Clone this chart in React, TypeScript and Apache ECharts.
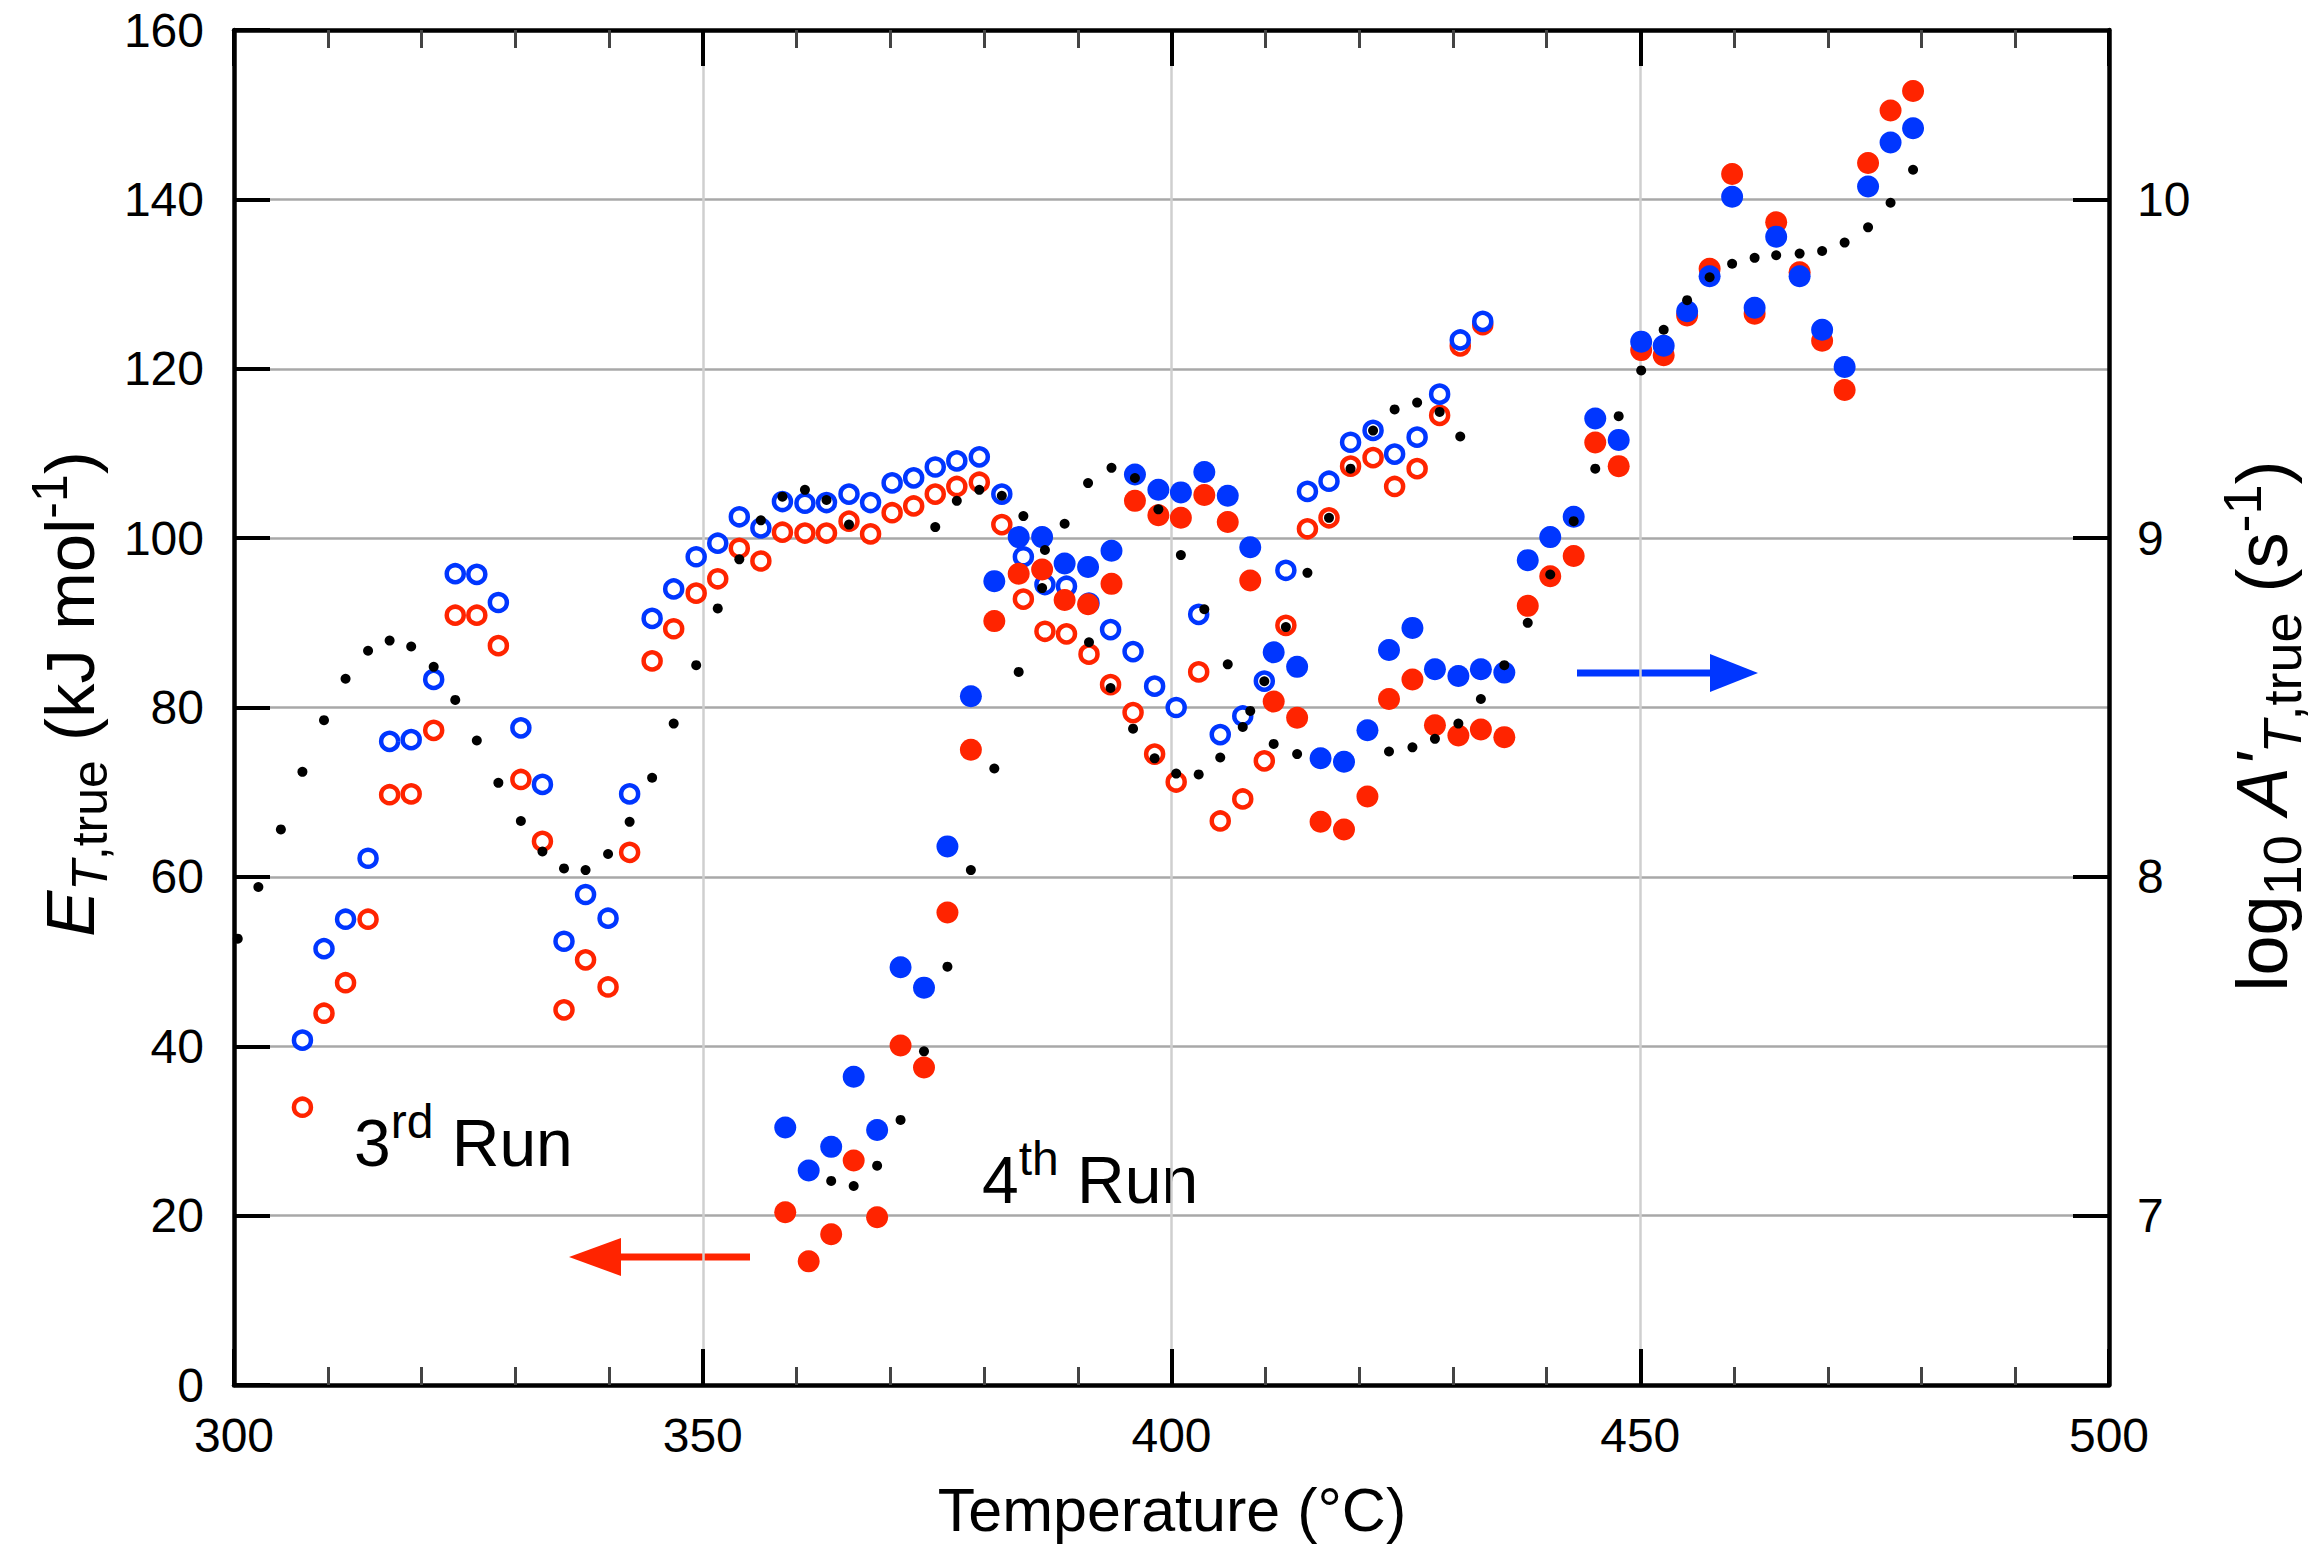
import React, { useEffect, useRef } from 'react';
import * as echarts from 'echarts';

// ---------- DATA ----------
// 3rd run (open circles): temperatures in °C
const run3T = [
  307.3, 309.6, 311.9, 314.3, 316.6, 318.9, 321.3, 323.6, 325.9, 328.2,
  330.6, 332.9, 335.2, 337.5, 339.9, 342.2, 344.6, 346.9, 349.3, 351.6,
  353.9, 356.2, 358.5, 360.9, 363.2, 365.6, 367.9, 370.2, 372.5, 374.8,
  377.1, 379.5, 381.9, 384.2, 386.5, 388.8, 391.2, 393.5, 395.9, 398.2,
  400.5, 402.9, 405.2, 407.6, 409.9, 412.2, 414.5, 416.8, 419.1, 421.5,
  423.8, 426.2, 428.6, 430.8, 433.2,
];
// 3rd run E_T,true (kJ/mol) – red open circles, left axis
const run3E = [
  32.8, 43.9, 47.5, 55.0, 69.7, 69.8, 77.3, 90.9, 90.9, 87.3,
  71.5, 64.2, 44.3, 50.2, 47.0, 62.9, 85.5, 89.3, 93.5, 95.2,
  98.8, 97.3, 100.7, 100.6, 100.6, 102.0, 100.5, 103.0, 103.8, 105.2,
  106.1, 106.6, 101.6, 92.8, 89.0, 88.7, 86.3, 82.7, 79.4, 74.5,
  71.2, 84.2, 66.6, 69.2, 73.7, 89.7, 101.1, 102.4, 108.5, 109.5,
  106.1, 108.2, 114.5, 122.7, 125.2,
];
// 3rd run log10 A'_T,true (s^-1) – blue open circles, right axis
const run3LogA = [
  7.518, 7.788, 7.875, 8.055, 8.4, 8.405, 8.583, 8.895, 8.893, 8.81,
  8.44, 8.273, 7.81, 7.948, 7.878, 8.245, 8.763, 8.85, 8.945, 8.985,
  9.063, 9.03, 9.108, 9.103, 9.105, 9.13, 9.105, 9.163, 9.178, 9.21,
  9.228, 9.24, 9.13, 8.945, 8.863, 8.858, 8.808, 8.73, 8.665, 8.563,
  8.5, 8.775, 8.42, 8.475, 8.578, 8.905, 9.138, 9.168, 9.283, 9.318,
  9.248, 9.298, 9.425, 9.585, 9.64,
];

// 4th run (filled circles)
const run4T = [
  358.8, 361.3, 363.7, 366.1, 368.6, 371.1, 373.6, 376.1, 378.6, 381.1,
  383.7, 386.2, 388.6, 391.1, 393.6, 396.1, 398.6, 401.0, 403.5, 406.0,
  408.4, 410.9, 413.4, 415.9, 418.4, 420.9, 423.2, 425.7, 428.1, 430.6,
  433.0, 435.5, 438.0, 440.4, 442.9, 445.2, 447.7, 450.1, 452.5, 455.0,
  457.4, 459.8, 462.2, 464.5, 467.0, 469.4, 471.8, 474.3, 476.7, 479.1,
];
const run4E = [
  20.4, 14.6, 17.8, 26.5, 19.8, 40.1, 37.5, 55.8, 75.0, 90.2,
  95.8, 96.3, 92.7, 92.2, 94.6, 104.4, 102.7, 102.4, 105.1, 101.9,
  95.0, 80.7, 78.8, 66.5, 65.6, 69.5, 81.0, 83.3, 77.9, 76.7,
  77.4, 76.5, 92.0, 95.5, 97.9, 111.3, 108.5, 122.2, 121.6, 126.3,
  131.8, 143.0, 126.5, 137.3, 131.4, 123.3, 117.5, 144.3, 150.5, 152.8,
];
const run4LogA = [
  7.26, 7.133, 7.203, 7.41, 7.253, 7.733, 7.673, 8.09, 8.533, 8.873,
  9.003, 9.003, 8.925, 8.915, 8.963, 9.188, 9.143, 9.135, 9.195, 9.125,
  8.973, 8.663, 8.62, 8.35, 8.34, 8.433, 8.67, 8.735, 8.613, 8.593,
  8.613, 8.603, 8.935, 9.003, 9.063, 9.353, 9.29, 9.58, 9.568, 9.67,
  9.773, 10.008, 9.68, 9.89, 9.773, 9.615, 9.505, 10.038, 10.168, 10.21,
];

// small black dots (left axis scale)
const dots3T = [
  300.4, 302.6, 305.0, 307.3, 309.6, 311.9, 314.3, 316.6, 318.9, 321.3,
  323.6, 325.9, 328.2, 330.6, 332.9, 335.2, 337.5, 339.9, 342.2, 344.6,
  346.9, 349.3, 351.6, 353.9, 356.2, 358.5, 360.9, 363.2, 365.6, 374.8,
  377.1, 379.5, 381.9, 384.2, 386.5, 391.2, 393.5, 395.9, 398.2, 400.5,
  402.9, 405.2, 407.6, 409.9, 412.2, 414.5, 416.8, 419.1, 421.5, 423.8,
  426.2, 428.6, 430.8,
];
const dots3E = [
  52.7, 58.8, 65.6, 72.4, 78.5, 83.4, 86.7, 87.9, 87.2, 84.8,
  80.9, 76.1, 71.1, 66.6, 63.0, 61.0, 60.8, 62.7, 66.5, 71.7,
  78.1, 85.0, 91.7, 97.5, 102.1, 104.9, 105.7, 104.5, 101.6, 101.3,
  104.4, 105.7, 105.0, 102.6, 98.6, 87.7, 82.3, 77.5, 74.0, 72.2,
  72.1, 74.1, 77.7, 83.1, 89.5, 95.9, 102.4, 108.2, 112.7, 115.2,
  116.0, 114.9, 112.0,
];
const dots4T = [
  363.7, 366.1, 368.6, 371.1, 373.6, 376.1, 378.6, 381.1, 383.7, 386.2,
  388.6, 391.1, 393.6, 396.1, 398.6, 401.0, 403.5, 406.0, 408.4, 410.9,
  413.4, 423.2, 425.7, 428.1, 430.6, 433.0, 435.5, 438.0, 440.4, 442.9,
  445.2, 447.7, 450.1, 452.5, 455.0, 457.4, 459.8, 462.2, 464.5, 467.0,
  469.4, 471.8, 474.3, 476.7, 479.1,
];
const dots4E = [
  24.1, 23.5, 25.9, 31.3, 39.4, 49.4, 60.8, 72.8, 84.2, 94.1,
  101.7, 106.5, 108.3, 107.1, 103.4, 98.0, 91.6, 85.1, 79.6, 75.7,
  74.5, 74.8, 75.3, 76.3, 78.1, 81.0, 85.0, 90.0, 95.7, 102.0,
  108.2, 114.4, 119.8, 124.6, 128.1, 130.8, 132.4, 133.1, 133.4, 133.6,
  133.9, 134.9, 136.7, 139.6, 143.5,
];

// axis ticks
const rightTicks = [7, 8, 9, 10];

// ---------- STYLE ----------
const RED = '#ff2400';
const BLUE = '#0036ff';
const FONT = '"Liberation Sans", Arial, Helvetica, sans-serif';

const zip = (a: number[], b: number[]) => a.map((v, i) => [v, b[i]]);

export default function App() {
  const ref = useRef<HTMLDivElement>(null);

  useEffect(() => {
    if (!ref.current) return;
    const chart = echarts.init(ref.current, null, { renderer: 'svg' });

    const axisLine = { show: true, onZero: false, lineStyle: { color: '#000', width: 4.5 } };
    const majorTick = { show: true, inside: true, length: 36, lineStyle: { color: '#000', width: 4 } };
    const minorTick = { show: true, splitNumber: 5, length: 18, lineStyle: { color: '#444', width: 3 } };

    const mkRich = (base: number, small: number, lh: number) => ({
      n: { fontSize: base, fontFamily: FONT, lineHeight: lh, verticalAlign: 'middle', fill: '#000' },
      i: { fontSize: base, fontFamily: FONT, fontStyle: 'italic', lineHeight: lh, verticalAlign: 'middle', fill: '#000' },
      subi: { fontSize: small, fontFamily: FONT, fontStyle: 'italic', lineHeight: small, verticalAlign: 'bottom', fill: '#000' },
      sub: { fontSize: small, fontFamily: FONT, lineHeight: small, verticalAlign: 'bottom', fill: '#000' },
      sup: { fontSize: small, fontFamily: FONT, lineHeight: small, verticalAlign: 'top', fill: '#000' },
    });

    const runRich = {
      n: { fontSize: 66, fontFamily: FONT, lineHeight: 92, verticalAlign: 'middle', fill: '#000' },
      sup: { fontSize: 48, fontFamily: FONT, lineHeight: 48, verticalAlign: 'top', fill: '#000' },
    };

    const option: any = {
      animation: false,
      backgroundColor: '#fff',
      textStyle: { fontFamily: FONT },
      grid: { left: 234, right: 207, top: 30, bottom: 168, containLabel: false },
      xAxis: [
        {
          type: 'value',
          position: 'bottom',
          min: 300,
          max: 500,
          interval: 50,
          axisLine,
          axisTick: majorTick,
          minorTick,
          axisLabel: { fontSize: 48, color: '#000', margin: 26, fontFamily: FONT },
          splitLine: { show: true, lineStyle: { color: '#cfcfcf', width: 2.5 } },
          minorSplitLine: { show: false },
        },
        {
          type: 'value',
          position: 'top',
          min: 300,
          max: 500,
          interval: 50,
          axisLine,
          axisTick: majorTick,
          minorTick,
          axisLabel: { show: false },
          splitLine: { show: false },
        },
      ],
      yAxis: [
        {
          type: 'value',
          position: 'left',
          min: 0,
          max: 160,
          interval: 20,
          axisLine,
          axisTick: majorTick,
          axisLabel: { fontSize: 48, color: '#000', margin: 30, fontFamily: FONT },
          splitLine: { show: true, lineStyle: { color: '#a8a8a8', width: 2.5 } },
        },
        {
          type: 'value',
          position: 'right',
          min: 6.5,
          max: 10.5,
          axisLine,
          axisTick: { ...majorTick, customValues: rightTicks },
          axisLabel: {
            fontSize: 48,
            color: '#000',
            margin: 28,
            fontFamily: FONT,
            customValues: rightTicks,
            formatter: (v: number) => (Number.isInteger(v) ? String(v) : ''),
          },
          splitLine: { show: false },
        },
      ],
      graphic: [
        {
          type: 'text',
          x: 1172,
          y: 1510,
          style: {
            text: 'Temperature (°C)',
            fontSize: 61,
            fontFamily: FONT,
            fill: '#000',
            align: 'center',
            verticalAlign: 'middle',
          },
        },
        {
          type: 'text',
          x: 70,
          y: 694,
          rotation: Math.PI / 2,
          style: {
            text: '{i|E}{subi|T}{sub|,true}{n| (kJ mol}{sup|-1}{n|)}',
            rich: mkRich(69, 50, 90),
            align: 'center',
            verticalAlign: 'middle',
          },
        },
        {
          type: 'text',
          x: 2262,
          y: 726,
          rotation: Math.PI / 2,
          style: {
            text: "{n|log}{sub|10}{n| }{i|A'}{subi|T}{sub|,true}{n| (s}{sup|-1}{n|)}",
            rich: mkRich(72, 54, 94),
            align: 'center',
            verticalAlign: 'middle',
          },
        },
        {
          type: 'text',
          x: 354,
          y: 1143,
          style: {
            text: '{n|3}{sup|rd}{n| Run}',
            rich: runRich,
            align: 'left',
            verticalAlign: 'middle',
          },
        },
        {
          type: 'text',
          x: 982,
          y: 1180,
          style: {
            text: '{n|4}{sup|th}{n| Run}',
            rich: runRich,
            align: 'left',
            verticalAlign: 'middle',
          },
        },
        {
          type: 'line',
          shape: { x1: 750, y1: 1257, x2: 615, y2: 1257 },
          style: { stroke: RED, lineWidth: 7 },
        },
        {
          type: 'polygon',
          shape: { points: [[621, 1238], [621, 1276], [569, 1257]] },
          style: { fill: RED },
        },
        {
          type: 'line',
          shape: { x1: 1577, y1: 673, x2: 1716, y2: 673 },
          style: { stroke: BLUE, lineWidth: 7 },
        },
        {
          type: 'polygon',
          shape: { points: [[1710, 654], [1710, 692], [1758, 673]] },
          style: { fill: BLUE },
        },
      ],
      series: [
        {
          name: '3rd run E',
          type: 'scatter',
          xAxisIndex: 0,
          yAxisIndex: 0,
          symbol: 'circle',
          symbolSize: 17,
          itemStyle: { color: '#fff', borderColor: RED, borderWidth: 4.5, opacity: 1 },
          data: zip(run3T, run3E),
        },
        {
          name: '3rd run logA',
          type: 'scatter',
          xAxisIndex: 0,
          yAxisIndex: 1,
          symbol: 'circle',
          symbolSize: 17,
          itemStyle: { color: '#fff', borderColor: BLUE, borderWidth: 4.5, opacity: 1 },
          data: zip(run3T, run3LogA),
        },
        {
          name: '4th run E',
          type: 'scatter',
          xAxisIndex: 0,
          yAxisIndex: 0,
          symbol: 'circle',
          symbolSize: 22,
          itemStyle: { color: RED, opacity: 1 },
          data: zip(run4T, run4E),
        },
        {
          name: '4th run logA',
          type: 'scatter',
          xAxisIndex: 0,
          yAxisIndex: 1,
          symbol: 'circle',
          symbolSize: 22,
          itemStyle: { color: BLUE, opacity: 1 },
          data: zip(run4T, run4LogA),
        },
        {
          name: 'dots 3',
          type: 'scatter',
          xAxisIndex: 0,
          yAxisIndex: 0,
          symbol: 'circle',
          symbolSize: 10,
          itemStyle: { color: '#000', opacity: 1 },
          data: zip(dots3T, dots3E),
        },
        {
          name: 'dots 4',
          type: 'scatter',
          xAxisIndex: 0,
          yAxisIndex: 0,
          symbol: 'circle',
          symbolSize: 10,
          itemStyle: { color: '#000', opacity: 1 },
          data: zip(dots4T, dots4E),
        },
      ],
    };

    chart.setOption(option);
    return () => chart.dispose();
  }, []);

  return (
    <div
      ref={ref}
      style={{ position: 'fixed', left: 0, top: 0, width: 2316, height: 1553, background: '#fff' }}
    />
  );
}
